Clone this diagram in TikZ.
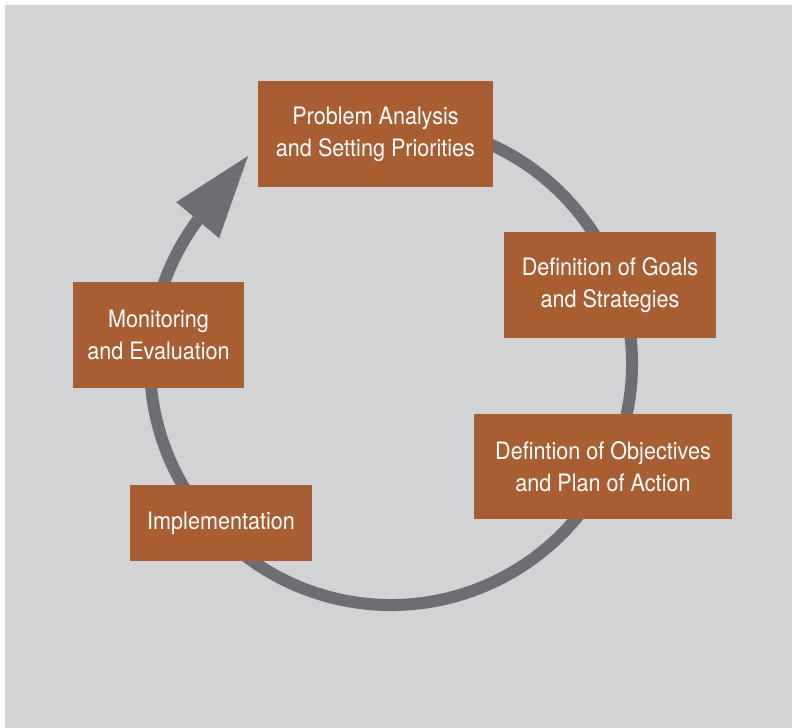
\documentclass[tikz,border=0pt]{standalone}
\usepackage{fontspec}
\setmainfont[FakeStretch=0.9]{TeX Gyre Heros}
\usetikzlibrary{calc}
\definecolor{paper}{RGB}{209,211,212}
\definecolor{rust}{RGB}{168,94,51}
\definecolor{ring}{RGB}{109,110,113}

\begin{document}
\begin{tikzpicture}[x=1pt, y=1pt,
  stage/.style={fill=rust, text=white, align=center, inner sep=0pt,
    minimum height=106, font=\fontsize{24}{32}\selectfont},
  cycle/.style={draw=ring, line width=12, line cap=butt},
%  stage/.style={draw}
  ]
    \useasboundingbox (0,0) rectangle (796,728);
    \fill[paper] (5,0) rectangle (792,723);
    \coordinate (c) at (391,364);
    \draw[cycle] ($(c)+(75:241)$) arc[start angle=75, end angle=-216.7, radius=241];
    \fill[ring] ($(c)+(143.0:269)$) -- ($(c)+(124.5:252.4)$) -- ($(c)+(143.8:213)$) -- cycle;
    \node [stage, minimum width=235] (problem) at (375.5,594) {Problem Analysis\\and Setting Priorities};
    \node [stage, minimum width=212] (goals) at (610,443) {Definition of Goals\\and Strategies};
    \node [stage, minimum width=258, minimum height=105] (objectives) at (603,261.5) {Defintion of Objectives\\and Plan of Action};
    \node [stage, minimum width=182, minimum height=76] (implement) at (221,205) {Implementation};
    \node [stage, minimum width=171] (monitor) at (158.5,393) {Monitoring\\and Evaluation};
  \end{tikzpicture}
\end{document}
